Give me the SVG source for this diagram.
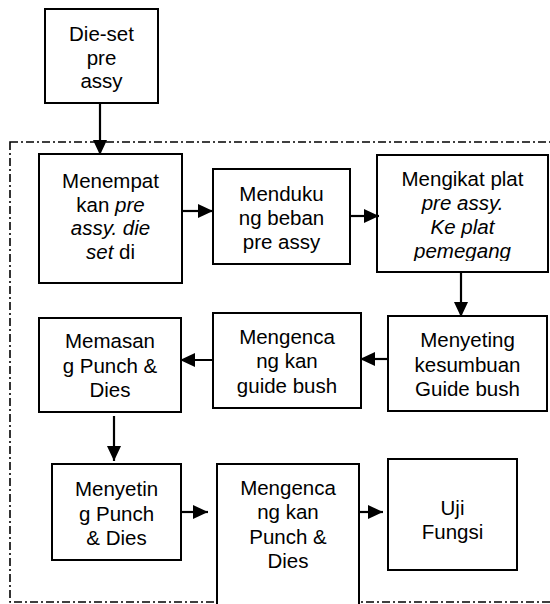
<svg xmlns="http://www.w3.org/2000/svg" width="550" height="604" viewBox="0 0 550 604">
<style>
.box{fill:#fff;stroke:#000;stroke-width:2}
.t{font-family:"Liberation Sans",Arial,sans-serif;font-size:20.5px;fill:#000;text-anchor:middle}
.i{font-style:italic}
.c{stroke:#000;stroke-width:2.2;fill:none;marker-end:url(#ah)}
.frame{fill:none;stroke:#000;stroke-width:1.6;stroke-dasharray:8 3 2 3}
</style>
<defs>
<marker id="ah" markerUnits="userSpaceOnUse" markerWidth="15" markerHeight="14" refX="15" refY="7" orient="auto">
<path d="M0,0 L15,7 L0,14 z" fill="#000"/>
</marker>
<clipPath id="clip2"><rect x="39" y="154" width="143" height="119"/></clipPath>
<clipPath id="clip4"><rect x="377" y="155" width="171" height="106"/></clipPath>
</defs>
<rect class="frame" x="10" y="142" width="560" height="460"/>
<g id="n1"><rect class="box" x="45" y="9" width="113" height="94"/>
<text class="t" x="101.5" y="41">Die-set</text><text class="t" x="101.5" y="64.5">pre</text><text class="t" x="101.5" y="88">assy</text></g>
<g id="n2"><rect class="box" x="39" y="154" width="143" height="129"/>
<g clip-path="url(#clip2)">
<text class="t" x="110.5" y="188">Menempat</text>
<text class="t" x="110.5" y="211.5">kan <tspan class="i">pre</tspan></text>
<text class="t i" x="110.5" y="235">assy. die</text>
<text class="t" x="110.5" y="258.5"><tspan class="i">set</tspan> di</text>
</g></g>
<g id="n3"><rect class="box" x="213" y="169" width="137" height="95"/>
<text class="t" x="281.5" y="201">Menduku</text><text class="t" x="281.5" y="225">ng beban</text><text class="t" x="281.5" y="249">pre assy</text></g>
<g id="n4"><rect class="box" x="377" y="155" width="171" height="117"/>
<g clip-path="url(#clip4)">
<text class="t" x="462.5" y="186">Mengikat plat</text>
<text class="t i" x="462.5" y="210">pre assy.</text>
<text class="t i" x="462.5" y="234">Ke plat</text>
<text class="t i" x="462.5" y="258">pemegang</text>
</g></g>
<g id="n5"><rect class="box" x="388" y="316" width="159" height="95"/>
<text class="t" x="467.5" y="347">Menyeting</text><text class="t" x="467.5" y="372">kesumbuan</text><text class="t" x="467.5" y="396">Guide bush</text></g>
<g id="n6"><rect class="box" x="213" y="313" width="148" height="95"/>
<text class="t" x="287" y="344">Mengenca</text><text class="t" x="287" y="368">ng kan</text><text class="t" x="287" y="393">guide bush</text></g>
<g id="n7"><rect class="box" x="39" y="318" width="142" height="94"/>
<text class="t" x="110" y="348">Memasan</text><text class="t" x="110" y="373">g Punch &amp;</text><text class="t" x="110" y="397">Dies</text></g>
<g id="n8"><rect class="box" x="52" y="464" width="129" height="96"/>
<text class="t" x="116.5" y="496">Menyetin</text><text class="t" x="116.5" y="521">g Punch</text><text class="t" x="116.5" y="545">&amp; Dies</text></g>
<g id="n9"><rect class="box" x="217" y="464" width="142" height="150"/>
<text class="t" x="288" y="495">Mengenca</text><text class="t" x="288" y="519">ng kan</text><text class="t" x="288" y="544">Punch &amp;</text><text class="t" x="288" y="568">Dies</text></g>
<g id="n10"><rect class="box" x="388" y="459" width="129" height="111"/>
<text class="t" x="452.5" y="515">Uji</text><text class="t" x="452.5" y="539">Fungsi</text></g>
<g id="connectors">
<line class="c" x1="100" y1="103" x2="100" y2="155"/>
<line class="c" x1="182" y1="211" x2="213" y2="211"/>
<line class="c" x1="350" y1="216" x2="379" y2="216"/>
<line class="c" x1="461" y1="272" x2="461" y2="317"/>
<line class="c" x1="388" y1="359" x2="360" y2="359"/>
<line class="c" x1="213" y1="360" x2="180" y2="360"/>
<line class="c" x1="114" y1="416" x2="114" y2="461"/>
<line class="c" x1="181" y1="512" x2="208" y2="512"/>
<line class="c" x1="359" y1="512" x2="383" y2="512"/>
</g>
</svg>
